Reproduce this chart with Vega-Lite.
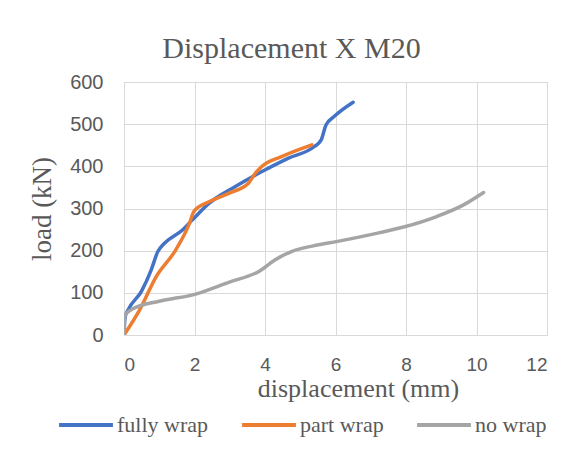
{
  "$schema": "https://vega.github.io/schema/vega-lite/v6.json",
  "autosize": {"type": "none"},
  "width": 423,
  "height": 253,
  "padding": {"left": 124, "top": 82, "right": 38, "bottom": 123},
  "background": "white",
  "title": {
    "text": "Displacement X M20",
    "font": "Liberation Serif",
    "fontSize": 30,
    "fontWeight": "normal",
    "color": "#595959",
    "anchor": "middle",
    "dx": -44,
    "offset": 8
  },
  "data": {
    "values": [
      {"series": "fully wrap", "x": 0.0, "y": 0},
      {"series": "fully wrap", "x": 0.03, "y": 42},
      {"series": "fully wrap", "x": 0.12, "y": 60},
      {"series": "fully wrap", "x": 0.49, "y": 103},
      {"series": "fully wrap", "x": 0.77, "y": 154},
      {"series": "fully wrap", "x": 0.96, "y": 198},
      {"series": "fully wrap", "x": 1.14, "y": 217},
      {"series": "fully wrap", "x": 1.66, "y": 249},
      {"series": "fully wrap", "x": 1.94, "y": 273},
      {"series": "fully wrap", "x": 2.41, "y": 312},
      {"series": "fully wrap", "x": 3.16, "y": 352},
      {"series": "fully wrap", "x": 3.9, "y": 387},
      {"series": "fully wrap", "x": 4.65, "y": 419},
      {"series": "fully wrap", "x": 5.4, "y": 447},
      {"series": "fully wrap", "x": 5.59, "y": 462},
      {"series": "fully wrap", "x": 5.73, "y": 498},
      {"series": "fully wrap", "x": 5.96, "y": 518},
      {"series": "fully wrap", "x": 6.5, "y": 552},
      {"series": "part wrap", "x": 0.0, "y": 0},
      {"series": "part wrap", "x": 0.44, "y": 59},
      {"series": "part wrap", "x": 0.91, "y": 138},
      {"series": "part wrap", "x": 1.47, "y": 202},
      {"series": "part wrap", "x": 1.84, "y": 261},
      {"series": "part wrap", "x": 1.99, "y": 294},
      {"series": "part wrap", "x": 2.41, "y": 316},
      {"series": "part wrap", "x": 2.97, "y": 336},
      {"series": "part wrap", "x": 3.53, "y": 360},
      {"series": "part wrap", "x": 3.72, "y": 383},
      {"series": "part wrap", "x": 3.9, "y": 399},
      {"series": "part wrap", "x": 4.47, "y": 423},
      {"series": "part wrap", "x": 5.33, "y": 451},
      {"series": "no wrap", "x": 0.0, "y": 0},
      {"series": "no wrap", "x": 0.02, "y": 45},
      {"series": "no wrap", "x": 0.25, "y": 62},
      {"series": "no wrap", "x": 1.0, "y": 80},
      {"series": "no wrap", "x": 2.03, "y": 97},
      {"series": "no wrap", "x": 2.97, "y": 125},
      {"series": "no wrap", "x": 3.85, "y": 152},
      {"series": "no wrap", "x": 4.28, "y": 178},
      {"series": "no wrap", "x": 4.75, "y": 198},
      {"series": "no wrap", "x": 5.4, "y": 212},
      {"series": "no wrap", "x": 6.06, "y": 222},
      {"series": "no wrap", "x": 7.0, "y": 238},
      {"series": "no wrap", "x": 7.93, "y": 256},
      {"series": "no wrap", "x": 8.87, "y": 281},
      {"series": "no wrap", "x": 9.62, "y": 308},
      {"series": "no wrap", "x": 10.2, "y": 338}
    ]
  },
  "mark": {"type": "line", "interpolate": "monotone", "strokeWidth": 3.5, "strokeCap": "round", "clip": true},
  "encoding": {
    "x": {
      "field": "x",
      "type": "quantitative",
      "scale": {"domain": [0, 12], "nice": false, "zero": true},
      "axis": {
        "title": "displacement (mm)",
        "values": [0, 2, 4, 6, 8, 10, 12],
        "grid": true,
        "gridColor": "#d9d9d9",
        "gridWidth": 1,
        "domain": true,
        "domainColor": "#d9d9d9",
        "ticks": false,
        "labelFont": "Liberation Sans",
        "labelFontSize": 19,
        "labelColor": "#595959",
        "labelPadding": 20,
        "titleFont": "Liberation Serif",
        "titleFontSize": 26,
        "titleFontWeight": "normal",
        "titleColor": "#595959",
        "titlePadding": 1,
        "titleX": 234
      }
    },
    "y": {
      "field": "y",
      "type": "quantitative",
      "scale": {"domain": [0, 600], "nice": false},
      "axis": {
        "title": "load (kN)",
        "values": [0, 100, 200, 300, 400, 500, 600],
        "grid": true,
        "gridColor": "#d9d9d9",
        "gridWidth": 1,
        "domain": true,
        "domainColor": "#d9d9d9",
        "ticks": false,
        "labelFont": "Liberation Sans",
        "labelFontSize": 20,
        "labelColor": "#595959",
        "labelPadding": 21,
        "titleFont": "Liberation Serif",
        "titleFontSize": 27,
        "titleFontWeight": "normal",
        "titleColor": "#595959",
        "titlePadding": 13
      }
    },
    "color": {
      "field": "series",
      "type": "nominal",
      "scale": {
        "domain": ["fully wrap", "part wrap", "no wrap"],
        "range": ["#4472C4", "#ED7D31", "#A5A5A5"]
      },
      "legend": {
        "title": null,
        "orient": "none",
        "direction": "horizontal",
        "legendX": -67,
        "legendY": 314,
        "symbolType": "stroke",
        "symbolSize": 2900,
        "symbolStrokeWidth": 4,
        "labelFont": "Liberation Serif",
        "labelFontSize": 22,
        "labelColor": "#595959",
        "labelOffset": 2,
        "columnPadding": 25,
        "labelLimit": 300
      }
    }
  },
  "config": {"view": {"stroke": "#d9d9d9"}}
}
